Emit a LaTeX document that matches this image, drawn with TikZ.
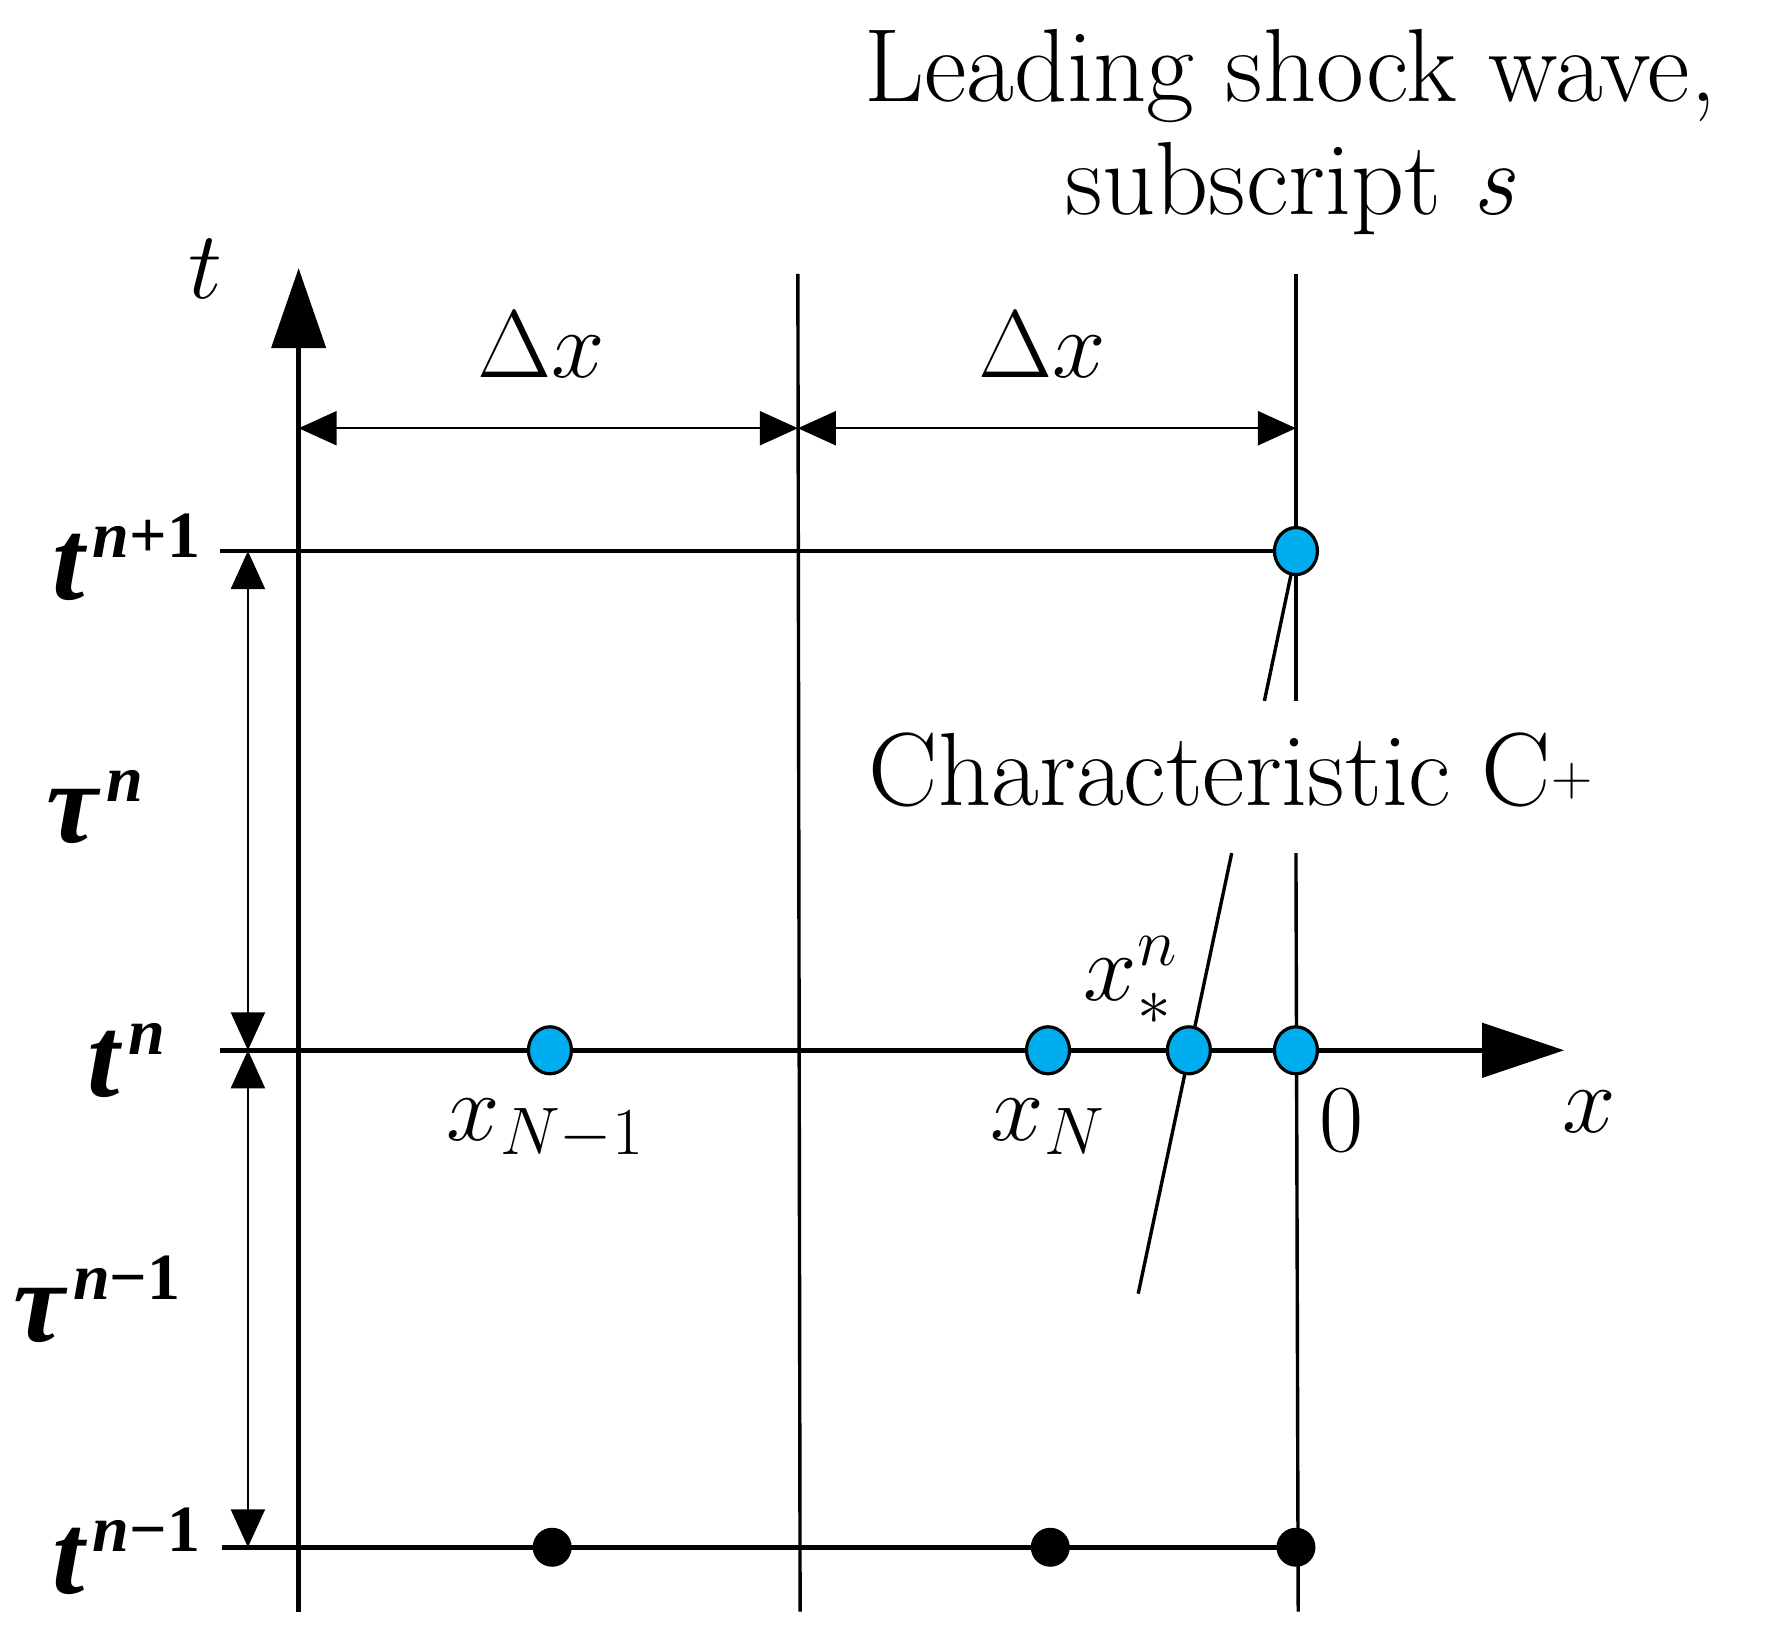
\RequirePackage{fix-cm}
\documentclass[tikz,border=0pt]{standalone}
\usepackage{amsmath}
\usepackage{fontspec}
\newfontfamily\tnr{Liberation Serif}
\usetikzlibrary{arrows.meta,shapes.geometric}
\definecolor{dotblue}{RGB}{0,174,239}
\newcommand{\blab}[2]{{\tnr\bfseries\itshape #1}\kern0.07em\raisebox{0.36em}{\fontsize{33}{33}\selectfont\tnr\bfseries #2}}
\begin{document}
\begin{tikzpicture}[x=0.5635pt,y=-0.5635pt,
  every node/.style={inner sep=0pt,outer sep=0pt},
  mainline/.style={line width=2.3pt},
  gridline/.style={line width=1.7pt},
  dimline/.style={line width=1.1pt,{Triangle[length=19pt,width=17pt]}-{Triangle[length=19pt,width=17pt]}},
  bluedot/.style={ellipse,draw=black,line width=1.6pt,fill=dotblue,minimum width=21.5pt,minimum height=23.5pt},
  blackdot/.style={circle,fill=black,minimum size=19.5pt},
  txt/.style={font=\fontsize{52}{56}\selectfont,anchor=base},
  mlbl/.style={font=\fontsize{48}{52}\selectfont,anchor=base},
  blbl/.style={font=\fontsize{58}{60}\selectfont,anchor=base}]
\useasboundingbox (0,0) rectangle (1568,1462);
% coordinates
\coordinate (tbot) at (265,1430); \coordinate (ttop) at (265,238);
\coordinate (mtop) at (708,243); \coordinate (mbot) at (710,1430);
\coordinate (rtop) at (1150,243); \coordinate (r1) at (1150,622);
\coordinate (r2) at (1150,757); \coordinate (rbot) at (1152,1430);
\coordinate (L1) at (195,489); \coordinate (P1) at (1150,489);
\coordinate (L2) at (195,932); \coordinate (X2) at (1388,932);
\coordinate (L3) at (197,1373); \coordinate (P3) at (1150,1373);
\coordinate (a2) at (488,932); \coordinate (b2) at (930,932);
\coordinate (c2) at (1055,932); \coordinate (d2) at (1150,932);
\coordinate (a3) at (490,1373); \coordinate (b3) at (932,1373);
\coordinate (k1) at (1122,622); \coordinate (k2) at (1093,757); \coordinate (k3) at (1010,1148);
\coordinate (dx0) at (265,380); \coordinate (dx1) at (708,380); \coordinate (dx2) at (1150,380);
\coordinate (dt0) at (220,489); \coordinate (dt1) at (220,932); \coordinate (dt2) at (220,1373);
% axes and grid
\draw[mainline,-{Triangle[length=40pt,width=27pt]}] (tbot) -- (ttop);
\draw[gridline] (mtop) -- (mbot);
\draw[gridline] (rtop) -- (r1);
\draw[gridline] (r2) -- (rbot);
\draw[mainline] (L1) -- (P1);
\draw[mainline,-{Triangle[length=41pt,width=27pt]}] (L2) -- (X2);
\draw[mainline] (L3) -- (P3);
% characteristic
\draw[gridline] (P1) -- (k1);
\draw[gridline] (k2) -- (k3);
% dimension arrows
\draw[dimline] (dx0) -- (dx1);
\draw[dimline] (dx1) -- (dx2);
\draw[dimline] (dt0) -- (dt1);
\draw[dimline] (dt1) -- (dt2);
% dots
\node[bluedot] (nP1) at (P1) {};
\node[bluedot] (na2) at (a2) {};
\node[bluedot] (nb2) at (b2) {};
\node[bluedot] (nc2) at (c2) {};
\node[bluedot] (nd2) at (d2) {};
\node[blackdot] (na3) at (a3) {};
\node[blackdot] (nb3) at (b3) {};
\node[blackdot] (nP3) at (P3) {};
% texts
\node[txt] (lead1) at (1145,90) {Leading shock wave,};
\node[txt] (lead2) at (1145,190) {subscript \textit{s}};
\node[txt] (charl) at (1092,715) {Characteristic C\raisebox{0.1em}{\scalebox{0.55}{+}}};
\node[mlbl] (tlab) at (182,265) {$t$};
\node[mlbl] (dxa) at (480,335) {$\Delta x$};
\node[mlbl] (dxb) at (925,335) {$\Delta x$};
\node[blbl] (tn1) at (112,532) {\blab{t}{\textit{n}+1}};
\node[blbl] (tn) at (112,973) {\blab{t}{\textit{n}}};
\node[blbl] (tnm) at (112,1414) {\blab{t}{\textit{n}−1}};
\node[blbl] (taun) at (84,748) {\blab{τ}{\textit{n}}};
\node[blbl] (taunm) at (86,1190) {\blab{τ}{\textit{n}−1}};
\node[mlbl] (xNm) at (484,1012) {$x_{N-1}$};
\node[mlbl] (xN) at (930,1012) {$x_{N}$};
\node[mlbl,anchor=base east] (xs) at (1045,888) {$x_{*}^{n}$};
\node[mlbl] (zero) at (1190,1022) {0};
\node[mlbl] (xlab) at (1410,1005) {$x$};
\end{tikzpicture}
\end{document}
